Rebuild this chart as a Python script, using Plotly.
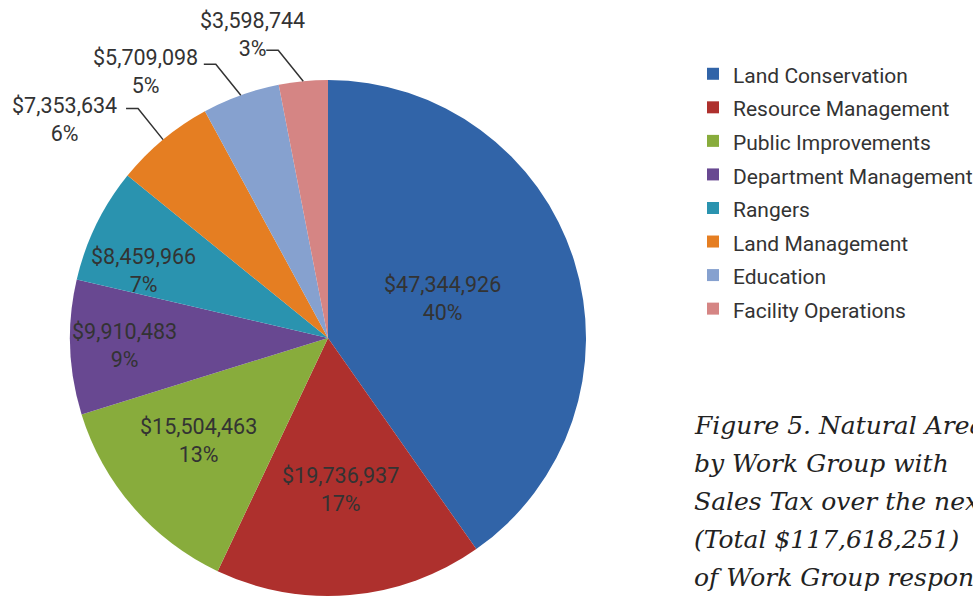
import math
import plotly.graph_objects as go

# ---------------- data ----------------
categories = ["Land Conservation", "Resource Management", "Public Improvements",
              "Department Management", "Rangers", "Land Management",
              "Education", "Facility Operations"]
values = [47344926, 19736937, 15504463, 9910483, 8459966, 7353634, 5709098, 3598744]
pct_labels = ["40%", "17%", "13%", "9%", "7%", "6%", "5%", "3%"]
colors = ["#3164A8", "#AE302D", "#88AC3C", "#684891", "#2A93AF", "#E57E22",
          "#86A1CF", "#D58584"]
caption_lines = ["Figure 5. Natural Areas Funding",
                 "by Work Group with",
                 "Sales Tax over the next",
                 "(Total $117,618,251)",
                 "of Work Group responsibility"]

# ---------------- layout geometry (style) ----------------
W, H = 973, 597
CX, CY, R = 328, 338, 258
FONT = "Roboto"
TXT = "#333333"
LBL_SIZE = 21.5

inside = [True, True, True, True, True, False, False, False]
# inside labels: radial fraction and small angular nudge (deg)
in_frac = [0.47, 0.59, 0.64, 0.79, 0.76]
in_nudge = [-1.6, 0, 2.4, 0, -6]
# outside labels: offsets relative to the leader-line elbow (px)
label_off = {5: (-74, 11), 6: (-70, 7), 7: (-26, -16)}
ELBOW = (-25, -31)
SEG = 12


def px(x):
    return x / W


def py(y):
    return 1 - y / H


fig = go.Figure(go.Pie(
    labels=[f"<span style='font-size:21px'>{c}</span>" for c in categories],
    values=values, sort=False, direction="clockwise", rotation=0,
    marker=dict(colors=colors, line=dict(width=0)),
    textinfo="none",
    hovertemplate="%{value:$,.0f}<extra></extra>",
    domain=dict(x=[px(CX - R), px(CX + R)], y=[py(CY + R), py(CY - R)]),
    showlegend=True,
))

total = sum(values)
cum = 0
shapes, annotations = [], []
for i, v in enumerate(values):
    mid = (cum + v / 2) / total
    cum += v
    text = f"${v:,}<br>{pct_labels[i]}"
    if inside[i]:
        th = math.radians(360 * mid + in_nudge[i])
        f = in_frac[i]
        lx, ly = CX + f * R * math.sin(th), CY - f * R * math.cos(th)
    else:
        th = 2 * math.pi * mid
        ex, ey = CX + R * math.sin(th), CY - R * math.cos(th)
        bx, by = ex + ELBOW[0], ey + ELBOW[1]
        hx = bx - SEG
        shapes.append(dict(type="path", xref="paper", yref="paper",
                           path=f"M {px(ex)},{py(ey)} L {px(bx)},{py(by)} L {px(hx)},{py(by)}",
                           line=dict(color="#333333", width=1.5)))
        dx, dy = label_off[i]
        lx, ly = bx + dx, by + dy
    annotations.append(dict(x=px(lx), y=py(ly), xref="paper", yref="paper",
                            text=text, showarrow=False,
                            xanchor="center", yanchor="middle",
                            font=dict(family=FONT, size=LBL_SIZE, color=TXT)))

for k, line in enumerate(caption_lines):
    annotations.append(dict(x=px(692), y=py(425 + 38 * k), xref="paper", yref="paper",
                            text=f"<i>{line}</i>", showarrow=False,
                            xanchor="left", yanchor="middle",
                            font=dict(family="DejaVu Serif", size=25, color="#222222")))

fig.update_layout(
    width=W, height=H, margin=dict(l=0, r=0, t=0, b=0, autoexpand=False),
    paper_bgcolor="white", plot_bgcolor="white",
    shapes=shapes, annotations=annotations,
    legend=dict(x=px(693), y=py(52), xanchor="left", yanchor="top",
                font=dict(family=FONT, size=23.5, color=TXT),
                bgcolor="rgba(0,0,0,0)", itemclick=False),
)

fig.write_html(
    "out.html",
    config={"displayModeBar": False},
    post_script=("document.documentElement.style.overflow='hidden';"
                 "document.body.style.overflow='hidden';"
                 "document.body.style.margin='0';"),
)
